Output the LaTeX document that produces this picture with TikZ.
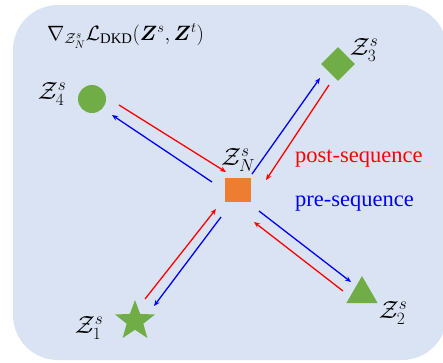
\documentclass[tikz,border=0pt]{standalone}
\usepackage{amsmath,bm}
\usepackage{fontspec}
\setmainfont{Liberation Serif}
\usetikzlibrary{shapes.geometric,arrows.meta}
\definecolor{bgblue}{HTML}{DAE3F3}
\definecolor{ggreen}{HTML}{70AD47}
\definecolor{oorange}{HTML}{ED7D31}
\begin{document}
\begin{tikzpicture}[x=1pt,y=-1pt,
  lbl/.style={inner sep=0pt,font=\fontsize{25}{30}\selectfont},
  seq/.style={inner sep=0pt,anchor=west,font=\fontsize{22.5}{27}\selectfont},
  post/.style={red,line width=1.3pt,-{Stealth[length=6pt,width=5pt]}},
  pre/.style={blue,line width=1.3pt,-{Stealth[length=6pt,width=5pt]}},
  gshape/.style={fill=ggreen,draw=none,inner sep=0pt}]
\useasboundingbox (0,0) rectangle (443,362);
\clip (0,0) rectangle (443,362);
\fill[bgblue,rounded corners=45pt] (13,5) rectangle (447,360);
% title
\node[inner sep=0pt,anchor=west,font=\fontsize{21}{25}\selectfont] (title) at (47,36)
  {$\nabla_{\mathcal{Z}_N^s}\mathcal{L}_{\mathrm{DKD}}(\bm{Z}^s,\bm{Z}^t)$};
% shapes
\node[gshape,circle,minimum size=28pt] (z4) at (92,99) {};
\node[gshape,diamond,minimum size=34pt] (z3) at (338,64) {};
\node[fill=oorange,minimum width=26pt,minimum height=24pt,inner sep=0pt] (zn) at (238,190) {};
\node[gshape,star,star points=5,star point ratio=2.4,minimum size=42pt] (z1) at (135,321) {};
\node[gshape,regular polygon,regular polygon sides=3,minimum size=36pt] (z2) at (362,294) {};
% labels
\node[lbl] (l4) at (52,94) {$\mathcal{Z}_4^s$};
\node[lbl] (l3) at (364,50) {$\mathcal{Z}_3^s$};
\node[lbl] (ln) at (238,160) {$\mathcal{Z}_N^s$};
\node[lbl] (l1) at (89,328) {$\mathcal{Z}_1^s$};
\node[lbl] (l2) at (393,313) {$\mathcal{Z}_2^s$};
\node[seq,red] (post) at (295,159) {post-sequence};
\node[seq,blue] (pre) at (295,203) {pre-sequence};
% connector end points
\coordinate (a4r) at (119,105); \coordinate (b4r) at (226,172);
\coordinate (a4b) at (212,182); \coordinate (b4b) at (112,115);
\coordinate (a3b) at (252,174); \coordinate (b3b) at (320,78);
\coordinate (a3r) at (329,85);  \coordinate (b3r) at (266,180);
\coordinate (a1r) at (145,299); \coordinate (b1r) at (216,209);
\coordinate (a1b) at (221,217); \coordinate (b1b) at (154,306);
\coordinate (a2b) at (259,211); \coordinate (b2b) at (351,282);
\coordinate (a2r) at (343,291); \coordinate (b2r) at (254,222);
\draw[post] (a4r) -- (b4r);
\draw[pre] (a4b) -- (b4b);
\draw[pre] (a3b) -- (b3b);
\draw[post] (a3r) -- (b3r);
\draw[post] (a1r) -- (b1r);
\draw[pre] (a1b) -- (b1b);
\draw[pre] (a2b) -- (b2b);
\draw[post] (a2r) -- (b2r);
\end{tikzpicture}
\end{document}
